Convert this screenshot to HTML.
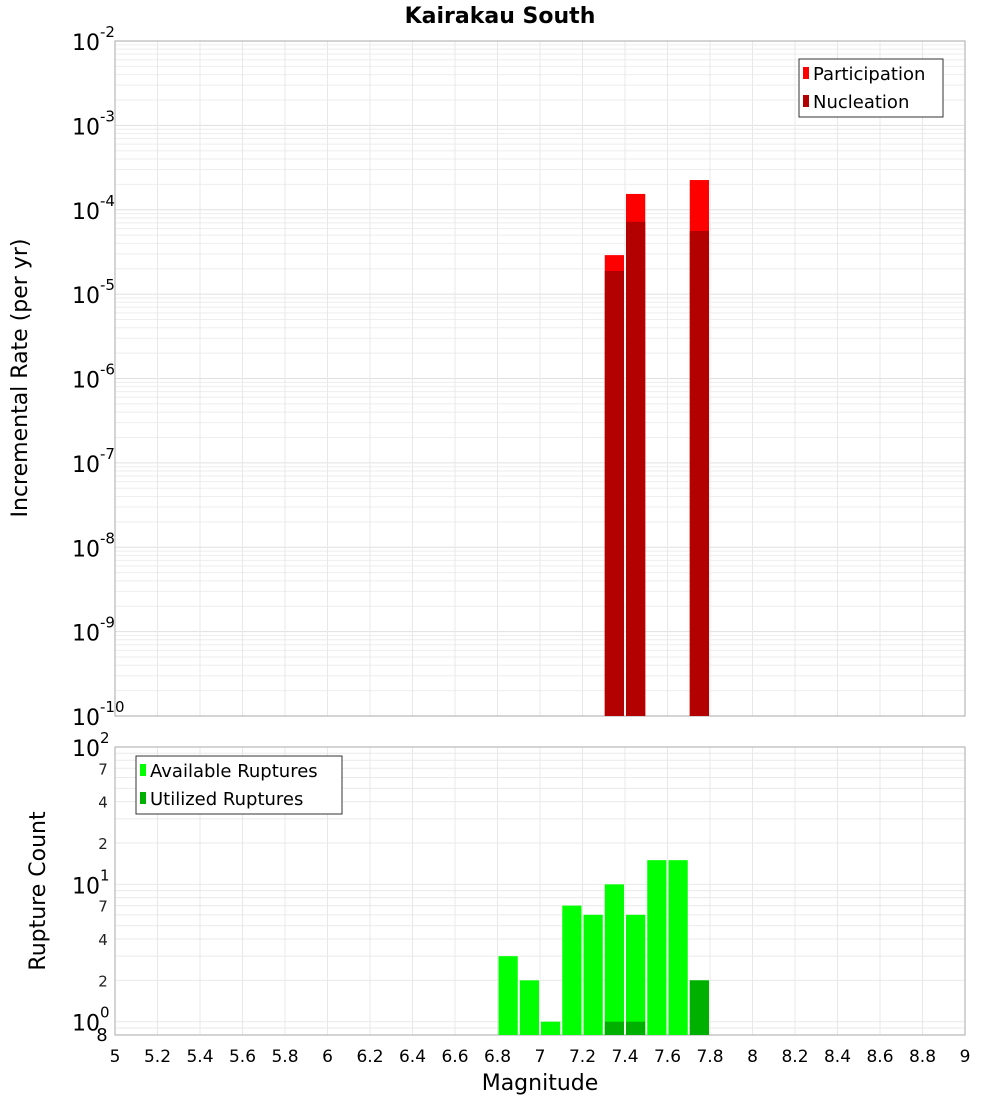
<!DOCTYPE html>
<html><head><meta charset="utf-8"><style>
body{margin:0;background:#fff;}
svg text{font-family:"DejaVu Sans","Liberation Sans",sans-serif;}
</style></head><body>
<svg id="c" width="1000" height="1100" xmlns="http://www.w3.org/2000/svg">
<text x="500" y="23" text-anchor="middle" font-size="22" font-weight="bold">Kairakau South</text>
<g id="topPlot"></g>
<g id="botPlot"></g>
<text transform="translate(27,378) rotate(-90)" text-anchor="middle" font-size="22">Incremental Rate (per yr)</text>
<text transform="translate(45,891) rotate(-90)" text-anchor="middle" font-size="22">Rupture Count</text>
<text x="540" y="1090" text-anchor="middle" font-size="22">Magnitude</text>
<g>
<rect x="799" y="59" width="144" height="58" fill="#fff" stroke="#333"/>
<rect x="803" y="67" width="6" height="12" fill="#ff0000"/>
<text x="813" y="80" font-size="18">Participation</text>
<rect x="803" y="95" width="6" height="12" fill="#b30000"/>
<text x="813" y="108" font-size="18">Nucleation</text>
</g>
<g>
<rect x="136" y="756" width="206" height="58" fill="#fff" stroke="#333"/>
<rect x="140" y="764" width="6" height="12" fill="#00ff00"/>
<text x="150" y="777" font-size="18">Available Ruptures</text>
<rect x="140" y="792" width="6" height="12" fill="#00b000"/>
<text x="150" y="805" font-size="18">Utilized Ruptures</text>
</g>
</svg>
<script>
const mags=[7.3,7.4,7.7];
const participation=[2.9e-5,1.54e-4,2.25e-4];
const nucleation=[1.88e-5,7.2e-5,5.6e-5];
const countMags=[6.8,6.9,7.0,7.1,7.2,7.3,7.4,7.5,7.6,7.7];
const available=[3,2,1,7,6,10,6,15,15,2];
const utilMags=[7.3,7.4,7.7];
const utilized=[1,1,2];
const xTicks=[5,5.2,5.4,5.6,5.8,6,6.2,6.4,6.6,6.8,7,7.2,7.4,7.6,7.8,8,8.2,8.4,8.6,8.8,9];
const topExps=[-2,-3,-4,-5,-6,-7,-8,-9,-10];
const botMinor=[2,4,7,20,40,70];

const NS="http://www.w3.org/2000/svg";
const L=115,R=965;
const x=m=>L+(m-5)/4*(R-L);
const T0=41,T1=716;
const yT=v=>T0+(-2-Math.log10(v))/8*(T1-T0);
const B0=747,B1=1035;
const bMin=Math.log10(0.8),bMax=2;
const yB=v=>B0+(bMax-Math.log10(v))/(bMax-bMin)*(B1-B0);
function mk(p,tag,a){const e=document.createElementNS(NS,tag);for(const k in a)e.setAttribute(k,a[k]);p.appendChild(e);return e;}
const topG=document.getElementById('topPlot'),botG=document.getElementById('botPlot');

for(let d=-10;d<-2;d++)for(let k=1;k<10;k++){const y=yT(k*Math.pow(10,d));const g=mk(topG,'line',{x1:L,x2:R,y1:y,y2:y,stroke:k==1?'#e0e0e0':'#eeeeee'});

}
xTicks.forEach(t=>{const g=mk(topG,'line',{x1:x(t),x2:x(t),y1:T0,y2:T1,stroke:'#e8e8e8'});

});
mk(topG,'rect',{x:L,y:T0,width:R-L,height:T1-T0,fill:'none',stroke:'#aaa'});
topExps.forEach(e=>{const y=yT(Math.pow(10,e));const t=mk(topG,'text',{x:72,y:y+9,'font-size':22});


t.innerHTML='10<tspan dy="-13" font-size="15">'+e+'</tspan>';});
const w=x(5.1)-x(5)-2;
mags.forEach((m,i)=>{const r=mk(topG,'rect',{x:x(m)+1,y:yT(participation[i]),width:w,height:T1-yT(participation[i]),fill:'#ff0000'});


const n=mk(topG,'rect',{x:x(m)+1,y:yT(nucleation[i]),width:w,height:T1-yT(nucleation[i]),fill:'#b30000'});

});

[0.8,0.9,1,2,3,4,5,6,7,8,9,10,20,30,40,50,60,70,80,90,100].forEach(v=>{const y=yB(v);const g=mk(botG,'line',{x1:L,x2:R,y1:y,y2:y,stroke:'#eaeaea'});

});
xTicks.forEach(t=>{const g=mk(botG,'line',{x1:x(t),x2:x(t),y1:B0,y2:B1,stroke:'#e8e8e8'});

});
mk(botG,'rect',{x:L,y:B0,width:R-L,height:B1-B0,fill:'none',stroke:'#aaa'});
[0,1,2].forEach(e=>{const y=yB(Math.pow(10,e));const t=mk(botG,'text',{x:72,y:y+9,'font-size':22});


t.innerHTML='10<tspan dy="-13" font-size="15">'+e+'</tspan>';});
botMinor.forEach(v=>{const t=mk(botG,'text',{x:103,y:yB(v)+6,'font-size':15,'text-anchor':'middle',fill:'#222'});


t.textContent=String(v<10?v:v/10);});
{const t=mk(botG,'text',{x:102,y:B1+6,'font-size':18,'text-anchor':'middle'});


t.textContent='8';}
countMags.forEach((m,i)=>{const r=mk(botG,'rect',{x:x(m)+1,y:yB(available[i]),width:w,height:B1-yB(available[i]),fill:'#00ff00'});

});
utilMags.forEach((m,i)=>{const r=mk(botG,'rect',{x:x(m)+1,y:yB(utilized[i]),width:w,height:B1-yB(utilized[i]),fill:'#00b000'});

});
xTicks.forEach(t=>{const e=mk(botG,'text',{x:x(t),y:1062,'font-size':17,'text-anchor':'middle'});


e.textContent=String(t);});
</script>
</body></html>
